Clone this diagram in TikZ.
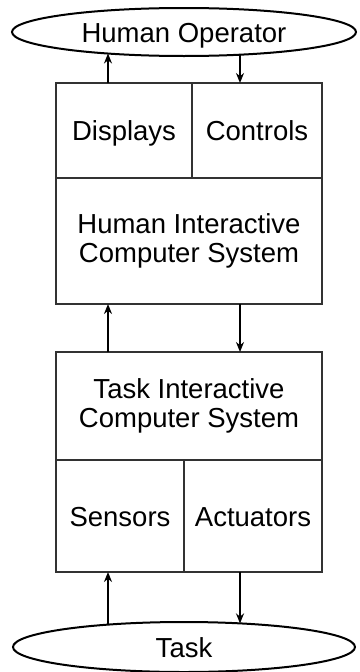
\documentclass[tikz,border=0pt]{standalone}
\usepackage{fontspec}
\setmainfont{Liberation Sans}
\usepackage{tikz}
\usetikzlibrary{shapes.geometric, arrows.meta}
\definecolor{edge}{RGB}{50, 50, 50}

\begin{document}
\begin{tikzpicture}[x=1pt, y=-1pt,
  every node/.style={font=\fontsize{27.5}{29}\selectfont, align=center, inner sep=0pt, outer sep=0pt},
  oneline/.style={text height=26pt, text depth=6pt},
  unit/.style={draw=edge, line width=2pt, rectangle},
  actor/.style={draw, line width=2pt, ellipse, oneline},
  flow/.style={->, >={Stealth[length=10pt, width=8pt]}, line width=2pt}]
  \useasboundingbox (0, 0) rectangle (359, 672);

  % operator and task
  \node[actor, minimum width=344pt, minimum height=48pt] (operator) at (184, 32) {Human Operator};
  \node[actor, minimum width=342pt, minimum height=50pt] (task) at (184, 647) {Task};

  % human side
  \node[unit, oneline, minimum width=136pt, minimum height=95pt] (displays) at (124, 130.5) {Displays};
  \node[unit, oneline, minimum width=130pt, minimum height=95pt] (controls) at (257, 130.5) {Controls};
  \node[unit, minimum width=266pt, minimum height=126pt] (hics) at (189, 241) {Human Interactive\\Computer System};

  % task side
  \node[unit, minimum width=266pt, minimum height=108pt] (tics) at (189, 406) {Task Interactive\\Computer System};
  \node[unit, oneline, minimum width=128pt, minimum height=112pt] (sensors) at (120, 516) {Sensors};
  \node[unit, oneline, minimum width=138pt, minimum height=112pt] (actuators) at (253, 516) {Actuators};

  \coordinate (upx) at (108, 0);
  \coordinate (downx) at (240, 0);
  \coordinate (opup) at (108, 53.5);
  \coordinate (opdown) at (240, 54.7);
  \coordinate (taskup) at (108, 624.6);
  \coordinate (taskdown) at (240, 623.4);

  \draw[flow] (displays.north -| upx) -- (opup);
  \draw[flow] (opdown) -- (controls.north -| downx);
  \draw[flow] (tics.north -| upx) -- (hics.south -| upx);
  \draw[flow] (hics.south -| downx) -- (tics.north -| downx);
  \draw[flow] (taskup) -- (sensors.south -| upx);
  \draw[flow] (actuators.south -| downx) -- (taskdown);

\end{tikzpicture}
\end{document}
